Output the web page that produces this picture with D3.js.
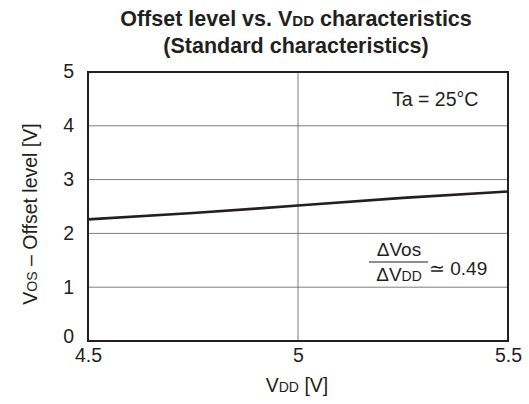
<!DOCTYPE html>
<html><head><meta charset="utf-8">
<script src="https://cdn.jsdelivr.net/npm/d3@7"></script>
<style>body{margin:0;background:#fff}svg{display:block}text{font-family:"Liberation Sans",Arial,sans-serif;fill:#231f20}</style>
</head><body><svg id="c" width="529" height="404"></svg>
<script>
const vdd = [4.5, 4.75, 4.9, 5.0, 5.25, 5.5];
const vos = [2.26, 2.38, 2.46, 2.52, 2.66, 2.78];
const xTicks = [4.5, 5, 5.5];
const yTicks = [0, 1, 2, 3, 4, 5];
const xTickLabels = ["4.5", "5", "5.5"];

const svg = d3.select("#c");
const m = {l: 88, r: 508, t: 72, b: 341};
const x = d3.scaleLinear().domain([4.5, 5.5]).range([m.l, m.r]);
const y = d3.scaleLinear().domain([0, 5]).range([m.b, m.t]);
const FS = "19.5px", SS = "14px";

// grid
svg.append("g").selectAll("line").data([1,2,3,4]).join("line")
  .attr("x1", m.l).attr("x2", m.r).attr("y1", d => y(d)).attr("y2", d => y(d))
  .attr("stroke", "#6d6e71").attr("stroke-width", 0.9);
svg.append("line").attr("x1", x(5)).attr("x2", x(5)).attr("y1", m.t).attr("y2", m.b)
  .attr("stroke", "#6d6e71").attr("stroke-width", 0.9);

// axes with tick labels
const xa = svg.append("g").attr("transform", `translate(0,${m.b})`)
  .call(d3.axisBottom(x).tickValues(xTicks).tickFormat((d,i) => xTickLabels[i]).tickSize(0).tickPadding(7));
const ya = svg.append("g").attr("transform", `translate(${m.l},0)`)
  .call(d3.axisLeft(y).tickValues(yTicks).tickFormat(d3.format("d")).tickSize(0).tickPadding(0));
[xa, ya].forEach(g => { g.select(".domain").remove(); g.selectAll("text").style("font-size", FS).attr("fill", "#231f20").style("font-family", "Liberation Sans, Arial, sans-serif"); });
ya.selectAll(".tick text").attr("x", -14).attr("dy", "0.3em");
ya.selectAll(".tick").filter(d => d === 0).select("text").attr("dy", "0.1em");
ya.selectAll(".tick").filter(d => d === 5).select("text").attr("dy", "0.3em");

// frame
svg.append("rect").attr("x", m.l).attr("y", m.t).attr("width", m.r - m.l).attr("height", m.b - m.t)
  .attr("fill", "none").attr("stroke", "#231f20").attr("stroke-width", 2);

// data line
svg.append("path").datum(vdd.map((v, i) => [v, vos[i]]))
  .attr("d", d3.line().x(d => x(d[0])).y(d => y(d[1])))
  .attr("fill", "none").attr("stroke", "#231f20").attr("stroke-width", 2.6);

// title
const t1 = svg.append("text").attr("x", 296).attr("y", 26).attr("text-anchor", "middle")
  .style("font-size", "21.5px").style("font-weight", "bold");
t1.append("tspan").text("Offset level vs. V");
t1.append("tspan").text("DD").style("font-size", "15px");
t1.append("tspan").text(" characteristics");
svg.append("text").attr("x", 296).attr("y", 53).attr("text-anchor", "middle")
  .style("font-size", "21.5px").style("font-weight", "bold").text("(Standard characteristics)");

// x label
const xl = svg.append("text").attr("x", 297).attr("y", 392).attr("text-anchor", "middle").style("font-size", FS);
xl.append("tspan").text("V"); xl.append("tspan").text("DD").style("font-size", SS); xl.append("tspan").text(" [V]");

// y label
const yl = svg.append("text").attr("transform", "translate(37,214) rotate(-90)").attr("text-anchor", "middle").style("font-size", FS);
yl.append("tspan").text("V"); yl.append("tspan").text("OS").style("font-size", SS); yl.append("tspan").text(" – Offset level [V]");

// annotations
svg.append("text").attr("x", 392).attr("y", 106).style("font-size", FS).text("Ta = 25°C");
const num = svg.append("text").attr("x", 399).attr("y", 256).attr("text-anchor", "middle").style("font-size", "19px");
num.append("tspan").text("ΔVos");
svg.append("line").attr("x1", 369).attr("x2", 428).attr("y1", 262).attr("y2", 262).attr("stroke", "#231f20").attr("stroke-width", 1.2);
const den = svg.append("text").attr("x", 399).attr("y", 281).attr("text-anchor", "middle").style("font-size", "19px");
den.append("tspan").text("ΔV"); den.append("tspan").text("DD").style("font-size", SS);
svg.append("text").attr("x", 429).attr("y", 275).style("font-size", "19px").text("≃ 0.49");
</script></body></html>
